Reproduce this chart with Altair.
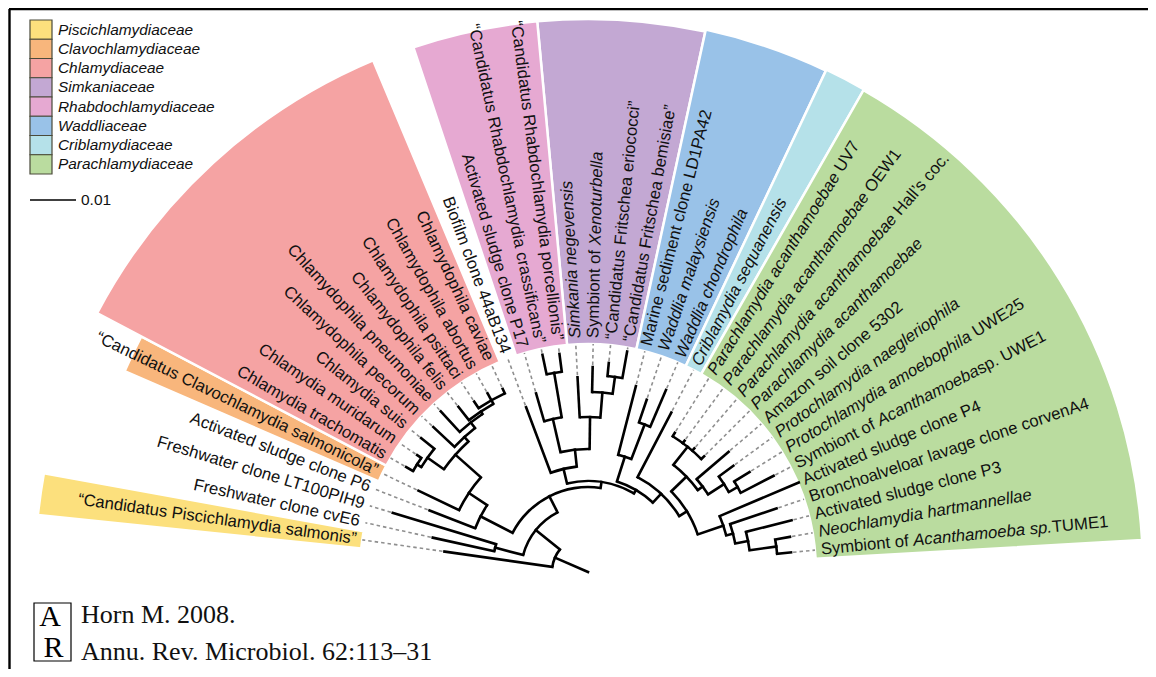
import math
import altair as alt
import pandas as pd

# ---------------- data ----------------
LEAF_LABELS = [
    "“Candidatus Piscichlamydia salmonis”",
    "Freshwater clone cvE6",
    "Freshwater clone LT100PIH9",
    "Activated sludge clone P6",
    "“Candidatus Clavochlamydia salmonicola”",
    "Chlamydia trachomatis",
    "Chlamydia muridarum",
    "Chlamydia suis",
    "Chlamydophila pecorum",
    "Chlamydophila pneumoniae",
    "Chlamydophila felis",
    "Chlamydophila psittaci",
    "Chlamydophila abortus",
    "Chlamydophila caviae",
    "Biofilm clone 44aB134",
    "Activated sludge clone P17",
    "“Candidatus Rhabdochlamydia crassificans”",
    "“Candidatus Rhabdochlamydia porcellionis”",
    "_Simkania negevensis_",
    "Symbiont of _Xenoturbella_",
    "“Candidatus Fritschea eriococci”",
    "“Candidatus Fritschea bemisiae”",
    "Marine sediment clone LD1PA42",
    "_Waddlia malaysiensis_",
    "_Waddlia chondrophila_",
    "_Criblamydia sequanensis_",
    "_Parachlamydia acanthamoebae_ UV7",
    "_Parachlamydia acanthamoebae_ OEW1",
    "_Parachlamydia acanthamoebae_ Hall’s coc.",
    "_Parachlamydia acanthamoebae_",
    "Amazon soil clone 5302",
    "_Protochlamydia naegleriophila_",
    "_Protochlamydia amoebophila_ UWE25",
    "Symbiont of _Acanthamoeba_sp. UWE1",
    "Activated sludge clone P4",
    "Bronchoalveloar lavage clone corvenA4",
    "Activated sludge clone P3",
    "_Neochlamydia hartmannellae_",
    "Symbiont of _Acanthamoeba sp._TUME1",
]
# distance of each leaf tip from the root (tree units drawn as pixels)
LEAF_TIP = [145, 159, 204, 170, 188, 210, 207, 214, 212, 218, 210, 205, 205, 202,
            176, 186, 222, 220, 195, 205, 210, 224, 192, 182, 198, 180,
            164, 163, 163, 164, 185, 180, 190, 209, 229, 199, 210, 205, 204]
# family index of each leaf (-1 = unassigned)
LEAF_FAMILY = [0, -1, -1, -1, 1, 2, 2, 2, 2, 2, 2, 2, 2, 2, -1, 4, 4, 4, 3, 3, 3, 3,
               5, 5, 5, 6, 7, 7, 7, 7, 7, 7, 7, 7, 7, 7, 7, 7, 7]

NODE_NAMES = ["Root", "A", "B", "D", "E", "G", "H", "Ch", "TM", "Cp", "Cq", "Cr", "Cs",
              "K", "L", "M", "Rh", "CP", "Sk", "XF", "Fr", "N", "Wd", "Wp", "CrP",
              "Pa", "Pt", "Pac", "AP", "Proto", "PU", "Q1", "Q2", "Q3", "NT"]
NODE_RADIUS = [36, 67, 96, 85, 121, 143, 177, 197, 202, 183, 190, 193, 197,
               91, 106, 123, 157, 202, 155, 180, 197, 95, 121, 158, 107,
               116, 137, 160, 143, 162, 172, 143, 150, 163, 190]
NODE_CHILDREN = ["1 A", "B D", "2 3", "E K", "4 G", "5 H", "Ch Cp", "TM 8", "6 7",
                 "9 Cq", "10 Cr", "11 Cs", "12 13 14",
                 "L N", "15 M", "Rh Sk", "16 CP", "17 18", "19 XF", "20 Fr", "21 22",
                 "Wd CrP", "23 Wp", "24 25", "26 Pa", "Pt Q1", "Pac AP", "27 28 29 30",
                 "31 Proto", "32 PU", "33 34", "35 Q2", "36 Q3", "37 NT", "38 39"]

FAMILIES = ["Piscichlamydiaceae", "Clavochlamydiaceae", "Chlamydiaceae", "Simkaniaceae",
            "Rhabdochlamydiaceae", "Waddliaceae", "Criblamydiaceae", "Parachlamydiaceae"]
FAMILY_COLORS = ["#FCE07D", "#F8B67C", "#F5A3A3", "#C3A8D3",
                 "#E6A9D2", "#99C2E8", "#B5E1E9", "#BADC9F"]
FAMILY_OUTER = [553, 505, 555, 553, 553, 555, 556, 555]

SCALE_LABEL = "0.01"
CITATION = ["Horn M. 2008.", "Annu. Rev. Microbiol. 62:113–31"]
LOGO = ["A", "R"]

# ---------------- layout ----------------
CX, CY = 588.0, 572.0
TH0, STEP = 171.9, 4.379
R_DASH_END = 228.0
R_TEXT = 234.0
WEDGE_IN = 228.0
FS = 16.7
X0, Y0 = 12.0, 12.0      # reference pixel at plot origin
W, H = 1136, 657
FONT = "Liberation Sans"
SERIF = "Liberation Serif"
LW = 2.6

CW = {' ': 278, '“': 333, '”': 333, '’': 222, "'": 191, '.': 278, ',': 278}
for c in "0123456789":
    CW[c] = 556
for c, w in zip("abcdefghijklmnopqrstuvwxyz",
                [556, 556, 500, 556, 556, 278, 556, 556, 222, 222, 500, 222, 833, 556, 556,
                 556, 556, 333, 500, 278, 556, 500, 722, 500, 500, 500]):
    CW[c] = w
for c, w in zip("ABCDEFGHIJKLMNOPQRSTUVWXYZ",
                [667, 667, 722, 722, 667, 611, 778, 722, 278, 500, 667, 556, 833, 722, 778,
                 667, 778, 722, 667, 611, 722, 667, 944, 667, 667, 611]):
    CW[c] = w


def text_w(s):
    return sum(CW.get(c, 556) for c in s) * FS / 1000.0


leaf_theta = [TH0 - STEP * i for i in range(len(LEAF_LABELS))]
children = {n: c.split() for n, c in zip(NODE_NAMES, NODE_CHILDREN)}
radius = dict(zip(NODE_NAMES, NODE_RADIUS))


def theta_of(tok):
    if tok.isdigit():
        return leaf_theta[int(tok) - 1]
    ch = children[tok]
    return (theta_of(ch[0]) + theta_of(ch[-1])) / 2.0


def rad_of(tok):
    if tok.isdigit():
        return float(LEAF_TIP[int(tok) - 1])
    return float(radius[tok])


def pol(r, th):
    t = math.radians(th)
    return CX + r * math.cos(t), CY - r * math.sin(t)


def va(th):
    return math.radians(90.0 - th)


# tree radial branches and arcs
radial, arcs = [], []
rt = theta_of("Root")
x1, y1 = pol(0, rt)
x2, y2 = pol(radius["Root"], rt)
radial.append(dict(x=x1, y=y1, x2=x2, y2=y2))
for n in NODE_NAMES:
    rn = radius[n]
    ch = children[n]
    ta, tb = theta_of(ch[0]), theta_of(ch[-1])
    arcs.append(dict(t1=va(ta), t2=va(tb), ro=rn + LW / 2, ri=rn - LW / 2))
    for c in ch:
        tc = theta_of(c)
        x1, y1 = pol(rn, tc)
        x2, y2 = pol(rad_of(c), tc)
        radial.append(dict(x=x1, y=y1, x2=x2, y2=y2))
radial_df = pd.DataFrame(radial)
arcs_df = pd.DataFrame(arcs)

# dashed leaf extensions
dash = []
for i, tip in enumerate(LEAF_TIP):
    if tip < R_DASH_END - 2:
        x1, y1 = pol(tip + 2, leaf_theta[i])
        x2, y2 = pol(R_DASH_END, leaf_theta[i])
        dash.append(dict(x=x1, y=y1, x2=x2, y2=y2))
dash_df = pd.DataFrame(dash)

# family wedges
wedges = []
for f, name in enumerate(FAMILIES):
    idx = [i for i, fam in enumerate(LEAF_FAMILY) if fam == f]
    ts = leaf_theta[idx[0]] + STEP / 2
    te = leaf_theta[idx[-1]] - STEP / 2
    wedges.append(dict(t1=va(ts), t2=va(te), ro=FAMILY_OUTER[f], ri=WEDGE_IN,
                       col=FAMILY_COLORS[f]))
wedge_df = pd.DataFrame(wedges)

# labels
left_rows, right_rows = [], []
for i, lab in enumerate(LEAF_LABELS):
    th = leaf_theta[i]
    if th > 95:
        x, y = pol(R_TEXT, th)
        left_rows.append(dict(x=x, y=y, ang=180.0 - th, txt=lab.replace("_", "")))
    else:
        parts = lab.split("_")
        off = 0.0
        for k, p in enumerate(parts):
            lead = len(p) - len(p.lstrip(" "))
            start = off + text_w(" ") * lead
            t = p.strip()
            if t:
                x, y = pol(R_TEXT + start, th)
                right_rows.append(dict(x=x, y=y, ang=(360.0 - th) % 360.0, txt=t,
                                       it=(k % 2 == 1)))
            off += text_w(p)
left_df = pd.DataFrame(left_rows)
right_df = pd.DataFrame(right_rows)

# legend
LEG_TOP, LEG_ROW = 20.0, 19.25
leg_df = pd.DataFrame(dict(
    name=FAMILIES, col=FAMILY_COLORS,
    x=[30.0] * 8, x2=[52.0] * 8,
    y=[LEG_TOP + LEG_ROW * k for k in range(8)],
    y2=[LEG_TOP + LEG_ROW * (k + 1) for k in range(8)],
    tx=[58.0] * 8,
    ty=[LEG_TOP + LEG_ROW * (k + 0.5) for k in range(8)],
))

# ---------------- encodings ----------------
XS = alt.Scale(domain=[X0, X0 + W], nice=False, zero=False)
YS = alt.Scale(domain=[Y0, Y0 + H], nice=False, zero=False, reverse=True)


def X(f):
    return alt.X(f, type="quantitative", scale=XS, axis=None)


def Y(f):
    return alt.Y(f, type="quantitative", scale=YS, axis=None)


def arc_enc(ch):
    return ch.encode(
        theta=alt.Theta("t1:Q", scale=None, stack=None),
        theta2=alt.Theta2("t2:Q"),
        radius=alt.Radius("ro:Q", scale=None),
        radius2=alt.Radius2("ri:Q"),
        x=alt.value(CX - X0), y=alt.value(CY - Y0),
    )


wedge_layer = arc_enc(alt.Chart(wedge_df).mark_arc(stroke="white", strokeWidth=2.5)).encode(
    fill=alt.Fill("col:N", scale=None))

dash_layer = alt.Chart(dash_df).mark_rule(
    color="#8f8f8f", strokeWidth=1.6, strokeDash=[3.5, 3]).encode(
    x=X("x"), y=Y("y"), x2="x2", y2="y2")

arc_layer = arc_enc(alt.Chart(arcs_df).mark_arc(color="black"))

radial_layer = alt.Chart(radial_df).mark_rule(
    color="black", strokeWidth=LW, strokeCap="square").encode(
    x=X("x"), y=Y("y"), x2="x2", y2="y2")

left_text = alt.Chart(left_df).mark_text(
    align="right", baseline="middle", font=FONT, fontSize=FS, color="#111").encode(
    x=X("x"), y=Y("y"), text="txt:N", angle=alt.Angle("ang:Q", scale=None))

right_up = alt.Chart(right_df[~right_df["it"]]).mark_text(
    align="left", baseline="middle", font=FONT, fontSize=FS, color="#111").encode(
    x=X("x"), y=Y("y"), text="txt:N", angle=alt.Angle("ang:Q", scale=None))

right_it = alt.Chart(right_df[right_df["it"]]).mark_text(
    align="left", baseline="middle", font=FONT, fontSize=FS, fontStyle="italic",
    color="#111").encode(
    x=X("x"), y=Y("y"), text="txt:N", angle=alt.Angle("ang:Q", scale=None))

leg_rect = alt.Chart(leg_df).mark_rect(stroke="#4a4a3a", strokeWidth=1.2).encode(
    x=X("x"), x2="x2", y=Y("y"), y2="y2", fill=alt.Fill("col:N", scale=None))

leg_text = alt.Chart(leg_df).mark_text(
    align="left", baseline="middle", font=FONT, fontSize=15.4, fontStyle="italic",
    color="#111").encode(x=X("tx"), y=Y("ty"), text="name:N")

scale_df = pd.DataFrame(dict(x=[30.0], x2=[76.0], y=[200.0], tx=[81.0], lab=[SCALE_LABEL]))
scale_rule = alt.Chart(scale_df).mark_rule(color="black", strokeWidth=1.6).encode(
    x=X("x"), x2="x2", y=Y("y"))
scale_text = alt.Chart(scale_df).mark_text(
    align="left", baseline="middle", font=FONT, fontSize=15.5, color="#111").encode(
    x=X("tx"), y=Y("y"), text="lab:N")

border_df = pd.DataFrame(dict(x=[9.0, 9.5], x2=[1160.0, 9.5], y=[9.0, 9.0], y2=[9.0, 690.0]))
border = alt.Chart(border_df).mark_rule(color="black", strokeWidth=2.4).encode(
    x=X("x"), x2="x2", y=Y("y"), y2="y2")

logo_box_df = pd.DataFrame(dict(x=[34.0], x2=[71.0], y=[603.0], y2=[661.0]))
logo_box = alt.Chart(logo_box_df).mark_rect(fill="white", stroke="black", strokeWidth=1.2).encode(
    x=X("x"), x2="x2", y=Y("y"), y2="y2")
logo_a = alt.Chart(pd.DataFrame(dict(x=[50.0], y=[632.0], t=[LOGO[0]]))).mark_text(
    align="center", baseline="bottom", font=SERIF, fontSize=30, color="black").encode(
    x=X("x"), y=Y("y"), text="t:N")
logo_r = alt.Chart(pd.DataFrame(dict(x=[53.5], y=[632.5], t=[LOGO[1]]))).mark_text(
    align="center", baseline="top", font=SERIF, fontSize=30, color="black").encode(
    x=X("x"), y=Y("y"), text="t:N")

cit_df = pd.DataFrame(dict(x=[81.0, 81.0], y=[623.0, 660.0], t=CITATION))
cit_text = alt.Chart(cit_df).mark_text(
    align="left", baseline="alphabetic", font=SERIF, fontSize=26, color="#111").encode(
    x=X("x"), y=Y("y"), text="t:N")

chart = alt.layer(
    wedge_layer, dash_layer, arc_layer, radial_layer,
    left_text, right_up, right_it,
    leg_rect, leg_text, scale_rule, scale_text,
    border, logo_box, logo_a, logo_r, cit_text,
).properties(
    width=W, height=H,
    padding={"left": 4, "top": 4, "right": 0, "bottom": 0},
    autosize=alt.AutoSizeParams(type="none"),
    background="white",
).configure_view(stroke=None)

chart.save("out.html", embed_options={"renderer": "svg", "actions": False})
